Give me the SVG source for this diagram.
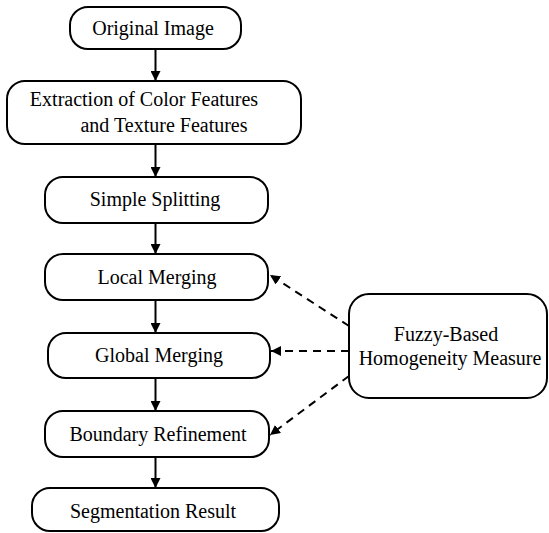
<svg xmlns="http://www.w3.org/2000/svg" width="549" height="533" viewBox="0 0 549 533">
<style>
.box{fill:#fff;stroke:#000;stroke-width:2}
.t{font-family:"Liberation Serif","Times New Roman",serif;font-size:20px;fill:#000;text-anchor:middle}
.c{stroke:#000;stroke-width:2;fill:none}
.d{stroke:#000;stroke-width:2;fill:none;stroke-dasharray:8,6}
</style>
<defs>
<marker id="ah" viewBox="0 0 10 10" refX="10" refY="5" markerWidth="5" markerHeight="5" orient="auto" markerUnits="strokeWidth">
<path d="M0,0 L10,5 L0,10 z" fill="#000"/>
</marker>
</defs>
<rect width="549" height="533" fill="#fff"/>
<g id="connectors">
<line class="c" x1="155.5" y1="49" x2="155.5" y2="81" marker-end="url(#ah)"/>
<line class="c" x1="155.5" y1="144" x2="155.5" y2="177" marker-end="url(#ah)"/>
<line class="c" x1="155.5" y1="223" x2="155.5" y2="254" marker-end="url(#ah)"/>
<line class="c" x1="155.5" y1="300" x2="155.5" y2="333" marker-end="url(#ah)"/>
<line class="c" x1="155.5" y1="378" x2="155.5" y2="411" marker-end="url(#ah)"/>
<line class="c" x1="155.5" y1="457" x2="155.5" y2="488" marker-end="url(#ah)"/>
<line class="d" x1="349" y1="326" x2="270" y2="275" marker-end="url(#ah)"/>
<line class="d" x1="349" y1="351" x2="271" y2="351" marker-end="url(#ah)"/>
<line class="d" x1="349" y1="376" x2="270" y2="435" marker-end="url(#ah)"/>
</g>
<g id="original">
<rect class="box" x="70" y="7" width="171" height="42" rx="18"/>
<text class="t" x="153" y="35">Original Image</text>
</g>
<g id="extraction">
<rect class="box" x="7" y="81" width="294" height="63" rx="18"/>
<text class="t" x="144" y="106">Extraction of Color Features</text>
<text class="t" x="164" y="132">and Texture Features</text>
</g>
<g id="splitting">
<rect class="box" x="45" y="177" width="223" height="46" rx="18"/>
<text class="t" x="155" y="206">Simple Splitting</text>
</g>
<g id="local">
<rect class="box" x="45" y="254" width="223" height="46" rx="18"/>
<text class="t" x="157" y="284">Local Merging</text>
</g>
<g id="global">
<rect class="box" x="48" y="333" width="222" height="45" rx="18"/>
<text class="t" x="159" y="362">Global Merging</text>
</g>
<g id="boundary">
<rect class="box" x="45" y="411" width="224" height="46" rx="18"/>
<text class="t" x="158" y="441">Boundary Refinement</text>
</g>
<g id="result">
<rect class="box" x="32" y="488" width="247" height="43" rx="18"/>
<text class="t" x="153" y="518">Segmentation Result</text>
</g>
<g id="fuzzy">
<rect class="box" x="349" y="294" width="198" height="104" rx="20"/>
<text class="t" x="446" y="341">Fuzzy-Based</text>
<text class="t" x="450" y="365">Homogeneity Measure</text>
</g>
</svg>
